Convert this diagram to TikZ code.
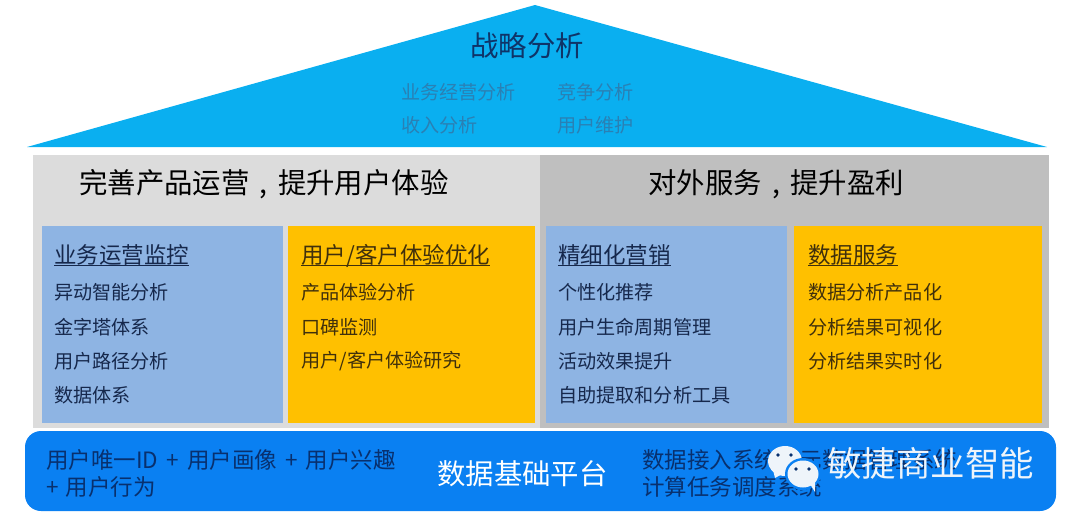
\documentclass[tikz,border=0pt]{standalone}
\usepackage{fontspec}
\setmainfont{Noto Sans CJK SC}
\definecolor{roofblue}{HTML}{0AAFF0}
\definecolor{panelleft}{HTML}{DCDCDC}
\definecolor{panelright}{HTML}{BFBFBF}
\definecolor{cardblue}{HTML}{8EB4E3}
\definecolor{cardyellow}{HTML}{FFC000}
\definecolor{baseblue}{HTML}{0A80F2}
\definecolor{basetext}{HTML}{08306E}
\definecolor{rooftext}{HTML}{2A80B4}
\definecolor{rooftitletext}{HTML}{0F3468}
\definecolor{bluetext}{HTML}{16284C}
\definecolor{yellowtext}{HTML}{40300C}
\definecolor{chatwhite}{HTML}{EEF4FA}
\newcommand{\tightul}[1]{\underline{\smash{#1}}}
\newcommand{\midcomma}{\makebox[1em]{,}}
\newcommand{\baseplus}{\hspace{0.36em}+\hspace{0.36em}}

\begin{document}
\begin{tikzpicture}[x=0.025cm,y=-0.025cm,
    textstyle/.style={black, anchor=west, inner sep=0pt},
    item/.style={textstyle, font=\fontsize{13.6}{16}\selectfont},
    itemblue/.style={item, text=bluetext},
    itemyellow/.style={item, text=yellowtext},
    cardtitle/.style={textstyle, anchor=base west, font=\fontsize{16}{19}\selectfont},
    heading/.style={textstyle, font=\fontsize{20.2}{24}\selectfont},
    roofitem/.style={item, text=rooftext},
    baseitem/.style={textstyle, text=basetext, font=\fontsize{16}{19}\selectfont},
    card/.style={minimum height=197*0.025cm, anchor=north west, inner sep=0pt}]

  \useasboundingbox (0,0) rectangle (1070,519);

  % roof
  \fill [roofblue] (27,147) -- (535,5) -- (1047,147) -- cycle;
  \node (rooftitle) [heading, text=rooftitletext] at (470,46) {战略分析};
  \node (roofa) [roofitem] at (401,92) {业务经营分析};
  \node (roofb) [roofitem] at (557,92) {竞争分析};
  \node (roofc) [roofitem] at (401,125) {收入分析};
  \node (roofd) [roofitem] at (557,125) {用户维护};

  % panels
  \fill [panelleft] (33,155) rectangle (540,428);
  \fill [panelright] (540,155) rectangle (1049,428);
  \node (headleft) [heading] at (79,184) {完善产品运营\midcomma 提升用户体验};
  \node (headright) [heading] at (648,184) {对外服务\midcomma 提升盈利};

  % cards
  \node (carda) [card, fill=cardblue, minimum width=241*0.025cm] at (42,226) {};
  \node (cardb) [card, fill=cardyellow, minimum width=247*0.025cm] at (288,226) {};
  \node (cardc) [card, fill=cardblue, minimum width=241*0.025cm] at (546,226) {};
  \node (cardd) [card, fill=cardyellow, minimum width=248*0.025cm] at (794,226) {};

  \node (titlea) [cardtitle, text=bluetext] at (54,263) {\tightul{业务运营监控}};
  \node (titleb) [cardtitle, text=yellowtext] at (301,263) {\tightul{用户/客户体验优化}};
  \node (titlec) [cardtitle, text=bluetext] at (558,263) {\tightul{精细化营销}};
  \node (titled) [cardtitle, text=yellowtext] at (808,263) {\tightul{数据服务}};

  \node (itema1) [itemblue] at (54,292) {异动智能分析};
  \node (itema2) [itemblue] at (54,327) {金字塔体系};
  \node (itema3) [itemblue] at (54,361) {用户路径分析};
  \node (itema4) [itemblue] at (54,395) {数据体系};

  \node (itemb1) [itemyellow] at (301,292) {产品体验分析};
  \node (itemb2) [itemyellow] at (301,327) {口碑监测};
  \node (itemb3) [itemyellow] at (301,361) {用户/客户体验研究};

  \node (itemc1) [itemblue] at (558,292) {个性化推荐};
  \node (itemc2) [itemblue] at (558,327) {用户生命周期管理};
  \node (itemc3) [itemblue] at (558,361) {活动效果提升};
  \node (itemc4) [itemblue] at (558,395) {自助提取和分析工具};

  \node (itemd1) [itemyellow] at (808,292) {数据分析产品化};
  \node (itemd2) [itemyellow] at (808,327) {分析结果可视化};
  \node (itemd3) [itemyellow] at (808,361) {分析结果实时化};

  % base
  \fill [baseblue, rounded corners=0.4cm] (25,431) rectangle (1056,511);
  \node (basea) [baseitem] at (46,460) {用户唯一ID\baseplus 用户画像\baseplus 用户兴趣};
  \node (baseb) [baseitem] at (46,487) {+\hspace{0.3em}用户行为};
  \node (basetitle) [heading, text=white] at (437,474) {数据基础平台};
  \node (basec) [baseitem] at (642,460) {数据接入系统，元数据管理系统};
  \node (based) [baseitem] at (642,487) {计算任务调度系统};

  % watermark
  \fill [chatwhite] (785,461) ellipse (17 and 15);
  \fill [chatwhite] (773,470) -- (775,478) -- (784,473) -- cycle;
  \fill [baseblue] (803,474) ellipse (18 and 16);
  \fill [chatwhite] (803,474) ellipse (15.5 and 13.5);
  \fill [chatwhite] (810,484) -- (815,492) -- (815,480) -- cycle;
  \foreach \x/\y in {778/455,791/455} {
    \fill [basetext] (\x,\y) circle (1.8);
  }
  \foreach \x/\y in {796/469,809/469} {
    \fill [basetext] (\x,\y) circle (1.8);
  }
  \node (mark) [textstyle, text=chatwhite, font=\fontsize{24.5}{29}\selectfont] at (827,463) {敏捷商业智能};

\end{tikzpicture}
\end{document}
